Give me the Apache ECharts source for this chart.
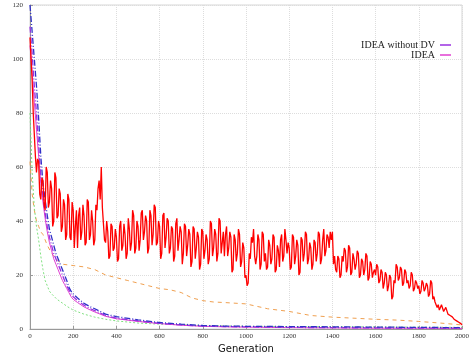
<!DOCTYPE html>
<html><head><meta charset="utf-8">
<script src="https://cdn.jsdelivr.net/npm/echarts@6/dist/echarts.min.js"></script>
<style>html,body{margin:0;padding:0;background:#fff}#c{width:472px;height:353px}</style>
</head><body><div id="c"></div>
<script>
var xTicks = [0,200,400,600,800,1000,1200,1400,1600,1800,2000];
var yTicks = [0,20,40,60,80,100,120];

var redStep = 5;
var redValues = [
108,100,92,80,72,64,58,63,62,50,48,56,55,46,44,60,58,45,47,55,
52,38,40,58,56,41,42,52,50,36,38,48,46,33,35,50,48,34,33,47,
44,30,38,44,30,42,45,33,36,46,42,31,32,48,47,33,35,44,40,31,
33,46,44,52,55,48,60,45,45,33,32,40,36,26,27,39,38,29,30,37,
34,25,26,38,40,29,31,39,35,26,28,41,37,29,32,44,42,28,30,40,
38,29,33,43,44,33,36,42,40,28,30,44,42,31,35,46,45,31,32,40,
38,26,28,42,43,30,34,41,40,28,30,38,37,25,27,39,41,29,33,38,
36,24,28,39,38,27,31,37,35,23,25,38,37,26,30,36,34,22,24,37,
36,26,29,35,33,24,26,40,39,27,30,37,35,25,28,41,40,28,32,36,
27,35,38,27,30,36,34,21,22,35,33,25,28,37,35,23,25,32,30,19,
20,16,17,28,26,34,32,37,27,24,27,35,33,22,24,36,35,25,28,22,
23,33,31,24,26,35,34,21,22,31,29,23,33,35,25,27,37,33,28,32,
30,22,23,35,34,24,27,33,31,20,21,34,33,25,28,36,35,24,26,32,
30,22,24,33,32,25,28,36,35,24,26,33,37,27,29,35,34,30,36,33,
36,24,27,22,21,27,26,19,20,27,25,30,29,21,23,31,30,20,21,28,
26,22,24,29,28,19,20,26,25,20,22,28,27,18,19,25,24,19,21,22,
20,24,23,17,18,22,21,15,17,21,20,14,16,20,19,11,12,18,17,24,
23,18,19,23,22,16,17,22,21,17,18,15,16,21,20,14,15,18,17,15,
16,13,14,18,17,14,15,17,16,12,13,18,17,11,12,10,10,8,9,7,
8,9,8.5,6.5,7,8,7.5,5.5,6,5,5.5,4.5,5,3.5,4,3,3,2.5,2.5,2,
1.5
];

var orangeGens = [0,10,20,30,40,50,60,80,100,120,150,200,250,300,350,400,450,500,550,600,650,700,750,800,850,900,1000,1100,1200,1300,1400,1500,1600,1700,1800,1900,2000];
var orangeValues = [62,50,44,40,38,36,35,31,28,26,24,23.5,23,22,20,19,18,17,16,15,14.5,13.5,11.5,10.5,10,9.8,9.3,7.5,6.5,5,4.4,4,3.6,3.3,2.8,2.2,1.5];

var greenGens = [0,10,20,30,40,50,60,70,80,90,100,125,150,175,200,250,300,350,400,500,600,800,1000,1500,2000];
var greenValues = [80,58,45,38,33,27,22,18,16,14,13,11,9.6,8.2,7,5.5,4.4,3.6,3,2.2,1.8,1.3,1,0.8,0.6];

var dvGens = [0,10,20,30,40,50,60,70,80,90,100,110,120,130,140,150,160,170,180,190,200,220,250,280,300,350,400,500,600,700,800,900,1000,1200,1400,1600,1800,2000];
var blueValues = [120,110,100,90,78,64,54,48,42,37,34,31,28,26,24,22,20,18,15.5,14,13,11.5,9.5,8.2,7.5,5.5,4.6,3.4,2.4,1.8,1.3,1.1,1,0.9,0.8,0.7,0.6,0.5];
var purpleValues = [112,102,90,80,68,57,49,43,38,34,31,28,26,24,22,20,18,16,14.5,13,12,10.5,8.8,7.5,6.8,5,4,3,2.1,1.5,1.1,0.9,0.8,0.6,0.5,0.4,0.3,0.3];
var magentaValues = [105,95,84,74,64,54,47,41,36,32,29,26,24,22,20,18,16.5,15,13.5,12,11,9.8,8.2,7,6.3,4.7,3.8,2.8,2,1.4,1,0.8,0.7,0.5,0.4,0.3,0.3,0.2];

function pairs(g, v){ return v.map(function(y,i){ return [g[i], y]; }); }
var redData = redValues.map(function(y,i){ return [i*redStep, y]; });

var chart = echarts.init(document.getElementById('c'), null, {renderer:'canvas'});
function line(name, data, color, type, width){
  return {name:name, type:'line', data:data, showSymbol:false, symbol:'none', animation:false,
    lineStyle:{color:color, width:width||1, type:type||'solid'}, itemStyle:{color:color}};
}
chart.setOption({
  animation:false,
  backgroundColor:'#fff',
  grid:{left:30, right:10, top:5, bottom:24, containLabel:false, outerBoundsMode:'none',
    show:true, borderColor:'#ccc', borderWidth:0.8},
  legend:{
    data:['IDEA without DV','IDEA'], orient:'vertical', right:16, top:35, align:'right',
    itemGap:0, itemWidth:11, itemHeight:1.5, icon:'rect',
    textStyle:{fontFamily:'Liberation Serif', fontSize:10, color:'#222', padding:[0,0,0,0]}
  },
  xAxis:{type:'value', min:0, max:2000, interval:200,
    name:'Generation', nameLocation:'middle', nameGap:12,
    nameTextStyle:{fontFamily:'DejaVu Sans', fontSize:10, color:'#111'},
    axisLine:{show:true, lineStyle:{color:'#999', width:1}},
    axisTick:{show:true, inside:true, length:3, lineStyle:{color:'#999'}},
    axisLabel:{fontFamily:'Liberation Serif', fontSize:7, color:'#333', margin:4,
      formatter:function(v){ return String(v); }},
    splitLine:{show:true, lineStyle:{color:'#ddd', type:'dotted', width:1}}
  },
  yAxis:{type:'value', min:0, max:120, interval:20,
    name:'Benchmark function value', nameLocation:'middle', nameGap:20,
    nameTextStyle:{fontFamily:'DejaVu Sans', fontSize:10, color:'#111'},
    axisLine:{show:true, lineStyle:{color:'#999', width:1}},
    axisTick:{show:true, inside:true, length:3, lineStyle:{color:'#999'}},
    axisLabel:{fontFamily:'Liberation Serif', fontSize:7, color:'#333', margin:7,
      formatter:function(v){ return String(v); }},
    splitLine:{show:true, lineStyle:{color:'#ddd', type:'dotted', width:1}}
  },
  series:[
    line('orange', pairs(orangeGens, orangeValues), '#f0a050', [4,4], 1),
    line('green', pairs(greenGens, greenValues), '#80e080', [2,2], 1),
    line('IDEA', pairs(dvGens, magentaValues), '#e040d0', 'solid', 1),
    line('IDEA without DV', pairs(dvGens, purpleValues), '#9a30e0', [6,2,1,2], 1.3),
    line('blue', pairs(dvGens, blueValues), '#3030c8', [6,2,1,2], 1.3),
    line('red', redData, '#ff0000', 'solid', 1.3)
  ]
});
</script></body></html>
